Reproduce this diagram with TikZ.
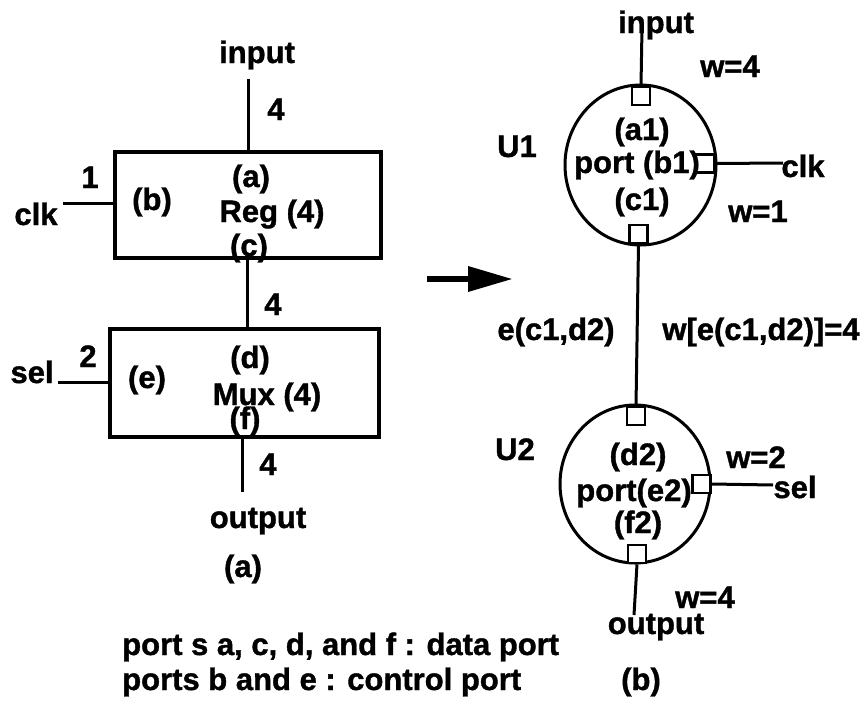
\documentclass[tikz,border=0pt]{standalone}
\usepackage{fontspec}
\setmainfont{Liberation Sans}[BoldFeatures={FakeBold=1.2}]
\usetikzlibrary{arrows.meta,shapes.geometric}
\begin{document}
\begin{tikzpicture}[x=1pt,y=-1pt,
  every node/.style={font=\fontsize{31}{36}\selectfont\bfseries},
  lbl/.style={anchor=base,inner sep=0pt},
  wire/.style={line width=3pt},
  blockbox/.style={draw,line width=3.5pt,rectangle,inner sep=0pt},
  vtx/.style={draw,ellipse,line width=3pt,inner sep=0pt},
  portsq/.style={draw,fill=white,line width=2.6pt,minimum size=18pt,inner sep=0pt}]
\useasboundingbox (0,0) rectangle (864,704);

% ---------- (a) block diagram ----------
\node[blockbox,minimum width=266pt,minimum height=106pt] (reg) at (248,205) {};
\node[blockbox,minimum width=269pt,minimum height=108pt] (mux) at (244.5,383) {};

\coordinate (inLtop) at (248,79);
\coordinate (clkLend) at (63,203);
\coordinate (selLend) at (58,382);
\coordinate (outLend) at (242,492);

\draw[wire] (inLtop) -- (inLtop |- reg.north);
\draw[wire] (clkLend) -- (clkLend -| reg.west);
\draw[wire] (247,0 |- reg.south) -- (247,0 |- mux.north);
\draw[wire] (selLend) -- (selLend -| mux.west);
\draw[wire] (outLend |- mux.south) -- (outLend);

\node[lbl] (inL) at (257,63) {input};
\node[lbl] (w1L) at (276,120) {4};
\node[lbl] (oneL) at (90,188) {1};
\node[lbl] (clkL) at (36,225) {clk};
\node[lbl] (pb) at (152,210) {(b)};
\node[lbl] (pa) at (251,187) {(a)};
\node[lbl] (regT) at (272,222) {Reg (4)};
\node[lbl] (pc) at (249,256) {(c)};
\node[lbl] (w2L) at (273,315) {4};
\node[lbl] (twoL) at (88,367) {2};
\node[lbl] (selL) at (32,383) {sel};
\node[lbl] (pe) at (147,388) {(e)};
\node[lbl] (pd) at (250,368) {(d)};
\node[lbl] (muxT) at (267,405) {Mux (4)};
\node[lbl] (pf) at (245,429) {(f)};
\node[lbl] (w3L) at (268,475) {4};
\node[lbl] (outL) at (258,528) {output};
\node[lbl] (capA) at (243,577) {(a)};

% ---------- arrow ----------
\coordinate (arrS) at (427,279);
\coordinate (arrE) at (513,279);
\draw[line width=6.5pt,-{Triangle[length=45pt,width=24pt]}] (arrS) -- (arrE);

% ---------- (b) graph ----------
\node[vtx,minimum width=151pt,minimum height=160pt] (u1) at (640.5,165) {};
\node[vtx,minimum width=150pt,minimum height=158pt] (u2) at (635,484) {};

\coordinate (inRtop) at (642,28);
\coordinate (clkRend) at (783,163);
\coordinate (selRend) at (773,485);
\coordinate (outRend) at (634,615);

\node[portsq] (sa1) at (641,96) {};
\node[portsq] (sb1) at (705,163.5) {};
\node[portsq] (sc1) at (638.5,234) {};
\node[portsq] (sd2) at (636,416) {};
\node[portsq] (se2) at (701.5,484) {};
\node[portsq] (sf2) at (637,554) {};

\draw[wire] (inRtop) -- (sa1.north);
\draw[wire] (sb1.east) -- (clkRend);
\draw[wire] (sc1.south) -- (sd2.north);
\draw[wire] (se2.east) -- (selRend);
\draw[wire] (sf2.south) -- (outRend);

\node[lbl] (inR) at (656,33) {input};
\node[lbl] (wR1) at (730,77) {w=4};
\node[lbl] (u1T) at (517,157) {U1};
\node[lbl] (a1T) at (642,140) {(a1)};
\node[lbl] (b1T) at (637,173) {port (b1)};
\node[lbl] (c1T) at (642,210) {(c1)};
\node[lbl] (clkR) at (803,177) {clk};
\node[lbl] (wR2) at (758,222) {w=1};
\node[lbl] (eT) at (556,340) {e(c1,d2)};
\node[lbl] (weT) at (761,340) {w[e(c1,d2)]=4};
\node[lbl] (u2T) at (515,460) {U2};
\node[lbl] (d2T) at (638,465) {(d2)};
\node[lbl] (e2T) at (634,501) {port(e2)};
\node[lbl] (f2T) at (638,533) {(f2)};
\node[lbl] (wR3) at (756,468) {w=2};
\node[lbl] (selR) at (795,498) {sel};
\node[lbl] (wR4) at (705,608) {w=4};
\node[lbl] (outR) at (656,634) {output};
\node[lbl] (capB) at (641,690) {(b)};

% ---------- notes ----------
\node[lbl,anchor=base west] (note1) at (122,655) {port s a, c, d, and f : data port};
\node[lbl,anchor=base west] (note2) at (122,690) {ports b and e : control port};
\end{tikzpicture}
\end{document}
